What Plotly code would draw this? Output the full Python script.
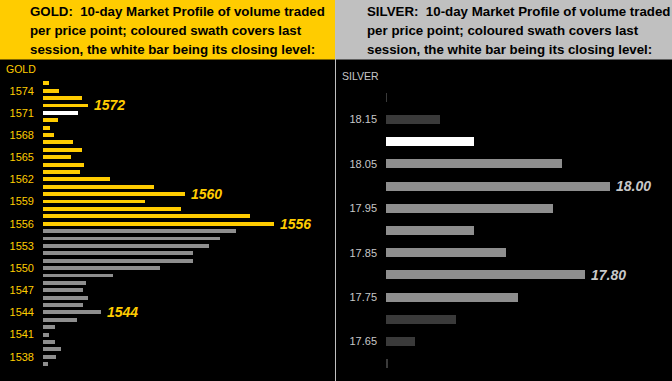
import plotly.graph_objects as go

W, H = 672, 381

# ---------------- data ----------------
gold_prices = [1575, 1574, 1573, 1572, 1571, 1570, 1569, 1568, 1567, 1566, 1565, 1564,
               1563, 1562, 1561, 1560, 1559, 1558, 1557, 1556, 1555, 1554, 1553, 1552,
               1551, 1550, 1549, 1548, 1547, 1546, 1545, 1544, 1543, 1542, 1541, 1540,
               1539, 1538, 1537]
gold_volume = [6, 16, 39, 45, 35, 15, 7, 11, 30, 39, 28, 41,
               37, 67, 111, 142, 102, 138, 207, 231, 193, 177, 166, 150,
               150, 117, 70, 43, 40, 45, 40, 58, 34, 12, 6, 12,
               18, 13, 5]
gold_session_high = 1575
gold_session_low = 1556
gold_close = 1571
gold_ticks = [1574, 1571, 1568, 1565, 1562, 1559, 1556, 1553, 1550, 1547, 1544, 1541, 1538]
gold_labels = [1572, 1560, 1556, 1544]

silver_prices = [18.20, 18.15, 18.10, 18.05, 18.00, 17.95, 17.90, 17.85, 17.80, 17.75,
                 17.70, 17.65, 17.60]
silver_volume = [1, 54, 88, 176, 224, 167, 88, 120, 199, 132, 70, 29, 2]
silver_swath_high = 18.05
silver_swath_low = 17.75
silver_close = 18.10
silver_ticks = [18.15, 18.05, 17.95, 17.85, 17.75, 17.65]
silver_labels = [18.00, 17.80]

GOLD = "#ffcc00"
SILV_TXT = "#c8c8c8"
GREY = "#8e8e8e"
DARK = "#3a3a3a"
FONT = "Liberation Sans, Arial, sans-serif"

gold_colors = []
for p in gold_prices:
    if p == gold_close:
        gold_colors.append("#ffffff")
    elif gold_session_low <= p <= gold_session_high:
        gold_colors.append(GOLD)
    else:
        gold_colors.append(GREY)

silver_colors = []
for p in silver_prices:
    if abs(p - silver_close) < 1e-9:
        silver_colors.append("#ffffff")
    elif silver_swath_low - 1e-9 <= p <= silver_swath_high + 1e-9:
        silver_colors.append(GREY)
    else:
        silver_colors.append(DARK)

fig = go.Figure()
fig.add_trace(go.Bar(x=gold_volume, y=gold_prices, orientation="h",
                     marker=dict(color=gold_colors, line=dict(width=0)),
                     width=0.52, xaxis="x", yaxis="y", hoverinfo="skip"))
fig.add_trace(go.Bar(x=silver_volume, y=silver_prices, orientation="h",
                     marker=dict(color=silver_colors, line=dict(width=0)),
                     width=0.02, xaxis="x2", yaxis="y2", hoverinfo="skip"))

top = (H - 62) / H
fig.update_layout(
    width=W, height=H, margin=dict(l=0, r=0, t=0, b=0),
    paper_bgcolor="#000000", plot_bgcolor="#000000",
    showlegend=False, bargap=0,
    xaxis=dict(domain=[43 / W, 333 / W], range=[0, 290], visible=False, fixedrange=True),
    yaxis=dict(domain=[0, top], range=[1534.72, 1577.88], anchor="x",
               tickvals=gold_ticks, ticktext=[str(t) for t in gold_ticks],
               showgrid=False, zeroline=False, showline=False, ticks="",
               ticklabelstandoff=8,
               tickfont=dict(family=FONT, size=11, color=GOLD)),
    xaxis2=dict(domain=[386 / W, 1], range=[0, 286], visible=False, fixedrange=True,
                anchor="y2"),
    yaxis2=dict(domain=[0, top], range=[17.561, 18.2795], anchor="x2",
                tickvals=silver_ticks, ticktext=[f"{t:.2f}" for t in silver_ticks],
                showgrid=False, zeroline=False, showline=False, ticks="",
                ticklabelstandoff=8,
                tickfont=dict(family=FONT, size=11, color=SILV_TXT)),
)

shapes = [
    dict(type="rect", xref="paper", yref="paper", x0=0, x1=335 / W, y0=1 - 59.5 / H, y1=1,
         fillcolor=GOLD, line=dict(width=0), layer="below"),
    dict(type="rect", xref="paper", yref="paper", x0=336 / W, x1=1, y0=1 - 59.5 / H, y1=1,
         fillcolor="#c0c0c0", line=dict(width=0), layer="below"),
    dict(type="line", xref="paper", yref="paper", x0=335.5 / W, x1=335.5 / W, y0=0, y1=1,
         line=dict(color="#c0c0c0", width=1)),
]
fig.update_layout(shapes=shapes)

ann = []
lines_gold = ["GOLD:  10-day Market Profile of volume traded",
              "per price point; coloured swath covers last",
              "session, the white bar being its closing level:"]
lines_silver = ["SILVER:  10-day Market Profile of volume traded",
                "per price point; coloured swath covers last",
                "session, the white bar being its closing level:"]
line_y = [11.8, 30.6, 49.2]
for i, (tg, ts) in enumerate(zip(lines_gold, lines_silver)):
    for txt, x0 in ((tg, 28), (ts, 365)):
        ann.append(dict(text=txt, xref="paper", yref="paper", x=x0 / W, y=1 - line_y[i] / H,
                        xanchor="left", yanchor="middle", showarrow=False,
                        font=dict(family=FONT, size=13.3, color="#000000", weight="bold")))

ann.append(dict(text="GOLD", xref="paper", yref="paper", x=4 / W, y=1 - 69 / H,
                xanchor="left", yanchor="middle", showarrow=False,
                font=dict(family=FONT, size=10.5, color=GOLD)))
ann.append(dict(text="SILVER", xref="paper", yref="paper", x=340 / W, y=1 - 76 / H,
                xanchor="left", yanchor="middle", showarrow=False,
                font=dict(family=FONT, size=10.5, color=SILV_TXT)))

for p in gold_labels:
    v = gold_volume[gold_prices.index(p)]
    ann.append(dict(text=str(p), x=v, y=p, xref="x", yref="y", xanchor="left",
                    yanchor="middle", xshift=4, showarrow=False,
                    font=dict(family=FONT, size=14, color=GOLD, weight="bold", style="italic")))
for p in silver_labels:
    idx = min(range(len(silver_prices)), key=lambda i: abs(silver_prices[i] - p))
    v = silver_volume[idx]
    ann.append(dict(text=f"{p:.2f}", x=v, y=p, xref="x2", yref="y2", xanchor="left",
                    yanchor="middle", xshift=4, showarrow=False,
                    font=dict(family=FONT, size=14, color=SILV_TXT, weight="bold", style="italic")))
fig.update_layout(annotations=ann)

fig.write_html("out.html")
